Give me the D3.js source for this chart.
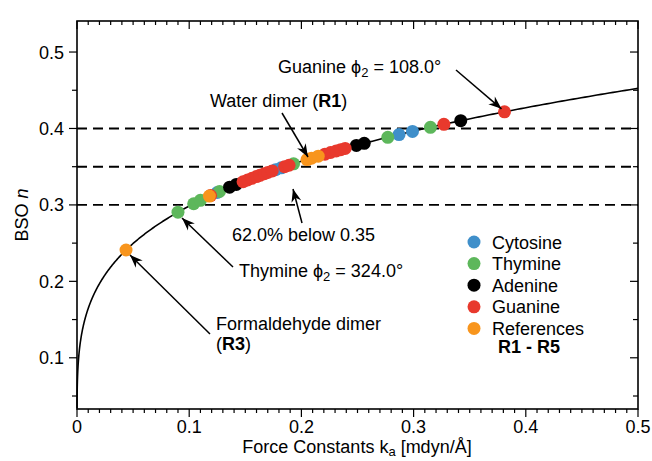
<!DOCTYPE html>
<html>
<head>
<meta charset="utf-8">
<script src="https://cdn.jsdelivr.net/npm/d3@7"></script>
<style>
  html, body { margin: 0; padding: 0; background: #fff; }
  svg { display: block; font-family: "Liberation Sans", Arial, sans-serif; }
</style>
</head>
<body>
<svg id="chart" width="652" height="461"></svg>
<script>
// Force constants k_a (mdyn/Å) of the hydrogen bonds, grouped by base
const cytosineK   = [0.125, 0.177, 0.182, 0.287, 0.299];
const thymineK    = [0.090, 0.104, 0.110, 0.127, 0.193, 0.277, 0.315];
const adenineK    = [0.136, 0.142, 0.249, 0.256, 0.342];
const guanineK    = [0.119, 0.148, 0.152, 0.156, 0.160, 0.163, 0.167, 0.170, 0.174,
                     0.185, 0.189, 0.221, 0.226, 0.231, 0.235, 0.239, 0.327, 0.381];
const referenceK  = [0.0437, 0.118, 0.205, 0.209, 0.215];

// BSO power relation n = A * (k_a)^B
const bsoA = 0.5413;
const bsoB = 0.2585;

// Threshold lines
const thresholds = [0.30, 0.35, 0.40];

// Axis ticks
const xTicks = [0, 0.1, 0.2, 0.3, 0.4, 0.5];
const yTicks = [0.1, 0.2, 0.3, 0.4, 0.5];

const groups = [
  { name: "Cytosine",   color: "#3f8fca", k: cytosineK },
  { name: "Thymine",    color: "#5db75b", k: thymineK },
  { name: "Adenine",    color: "#000000", k: adenineK },
  { name: "Guanine",    color: "#e8392d", k: guanineK },
  { name: "References", color: "#f8951d", k: referenceK }
];

const bso = k => bsoA * Math.pow(k, bsoB);

const W = 652, H = 461;
const margin = { left: 77, right: 14, top: 21, bottom: 52 };
const svg = d3.select("#chart");

const yLo = 0.033, yHi = 0.5406;
const x = d3.scaleLinear().domain([0, 0.5]).range([margin.left, W - margin.right]);
const y = d3.scaleLinear().domain([yLo, yHi]).range([H - margin.bottom, margin.top]);

const fs = 18;
const isMajor = d => Math.abs(d * 10 - Math.round(d * 10)) < 1e-6;

// Dashed thresholds
svg.append("g").selectAll("line").data(thresholds).join("line")
  .attr("x1", x(0)).attr("x2", x(0.5))
  .attr("y1", d => y(d)).attr("y2", d => y(d))
  .attr("stroke", "#000").attr("stroke-width", 1.9)
  .attr("stroke-dasharray", "10,6");

// Fitted BSO curve
const curveK = d3.range(1, 401).map(i => 0.5 * Math.pow(i / 400, 3));
const curvePts = curveK.map(k => [k, bso(k)]).filter(p => p[1] >= yLo);
svg.append("path")
  .datum(curvePts)
  .attr("fill", "none").attr("stroke", "#000").attr("stroke-width", 1.6)
  .attr("d", d3.line().x(d => x(d[0])).y(d => y(d[1])));

// Data points
const ptsG = svg.append("g");
groups.forEach(g => {
  ptsG.append("g").selectAll("circle").data(g.k).join("circle")
    .attr("cx", d => x(d)).attr("cy", d => y(bso(d)))
    .attr("r", 6.5).attr("fill", g.color);
});

// Frame and axes
const xMinor = d3.range(0, 0.5001, 0.01);
const yMinor = d3.range(0.05, 0.5001, 0.05);

const axG = svg.append("g").attr("stroke", "#000");
axG.append("rect")
  .attr("x", x(0)).attr("y", y(yHi))
  .attr("width", x(0.5) - x(0)).attr("height", y(yLo) - y(yHi))
  .attr("fill", "none").attr("stroke-width", 1.6);

// bottom axis: outward ticks
axG.append("g").selectAll("line").data(xMinor).join("line")
  .attr("x1", d => x(d)).attr("x2", d => x(d))
  .attr("y1", y(yLo))
  .attr("y2", d => y(yLo) + (isMajor(d) ? 8 : 4))
  .attr("stroke-width", 1.2);
// top axis: inward ticks
axG.append("g").selectAll("line").data(xMinor).join("line")
  .attr("x1", d => x(d)).attr("x2", d => x(d))
  .attr("y1", y(yHi))
  .attr("y2", d => y(yHi) + (isMajor(d) ? 8 : 4))
  .attr("stroke-width", 1.2);
// left axis: outward ticks
axG.append("g").selectAll("line").data(yMinor).join("line")
  .attr("y1", d => y(d)).attr("y2", d => y(d))
  .attr("x1", x(0))
  .attr("x2", d => x(0) - (isMajor(d) ? 8 : 5))
  .attr("stroke-width", 1.2);
// right axis: inward ticks
axG.append("g").selectAll("line").data(yMinor).join("line")
  .attr("y1", d => y(d)).attr("y2", d => y(d))
  .attr("x1", x(0.5))
  .attr("x2", d => x(0.5) - (isMajor(d) ? 8 : 5))
  .attr("stroke-width", 1.2);

// Tick labels
svg.append("g").selectAll("text").data(xTicks).join("text")
  .attr("x", d => x(d)).attr("y", y(yLo) + 23.5)
  .attr("text-anchor", "middle").attr("font-size", fs)
  .text(d => d === 0 ? "0" : d3.format(".1f")(d));
svg.append("g").selectAll("text").data(yTicks).join("text")
  .attr("x", x(0) - 13).attr("y", d => y(d) + 6.5)
  .attr("text-anchor", "end").attr("font-size", fs)
  .text(d => d3.format(".1f")(d));

// Axis titles
const xt = svg.append("text").attr("x", 357).attr("y", 453)
  .attr("text-anchor", "middle").attr("font-size", fs);
xt.append("tspan").text("Force Constants k");
xt.append("tspan").attr("font-size", 13).attr("dy", 3).text("a");
xt.append("tspan").attr("dy", -3).text(" [mdyn/Å]");

const yt = svg.append("text")
  .attr("transform", `translate(28,${(y(yHi) + y(yLo)) / 2}) rotate(-90)`)
  .attr("text-anchor", "middle").attr("font-size", fs);
yt.append("tspan").text("BSO ");
yt.append("tspan").attr("font-style", "italic").text("n");

// Arrow marker
const defs = svg.append("defs");
defs.append("marker").attr("id", "arr")
  .attr("viewBox", "-15 -7 17 14").attr("refX", 0).attr("refY", 0)
  .attr("markerWidth", 17).attr("markerHeight", 14)
  .attr("markerUnits", "userSpaceOnUse").attr("orient", "auto")
  .append("path").attr("d", "M0,0 L-13,-5 L-9,0 L-13,5 Z").attr("fill", "#000");

function arrow(x1, y1, x2, y2) {
  svg.append("line")
    .attr("x1", x1).attr("y1", y1).attr("x2", x2).attr("y2", y2)
    .attr("stroke", "#000").attr("stroke-width", 1.5)
    .attr("marker-end", "url(#arr)");
}

// Annotations
function phiLabel(tx, ty, base, rest) {
  const t = svg.append("text").attr("x", tx).attr("y", ty).attr("font-size", fs);
  t.append("tspan").text(base + " ϕ");
  t.append("tspan").attr("font-size", 13).attr("dy", 4).text("2");
  t.append("tspan").attr("dy", -4).text(rest);
}

phiLabel(278, 73, "Guanine", " = 108.0°");
arrow(456, 70, x(0.381) - 3, y(bso(0.381)) - 3);

const wd = svg.append("text").attr("x", 210).attr("y", 107).attr("font-size", fs);
wd.append("tspan").text("Water dimer (");
wd.append("tspan").attr("font-weight", "bold").text("R1");
wd.append("tspan").text(")");
arrow(282, 113, 308, 157);

svg.append("text").attr("x", 232).attr("y", 241).attr("font-size", fs)
  .text("62.0% below 0.35");
arrow(302, 223, 293, 189);

phiLabel(239, 277, "Thymine", " = 324.0°");
arrow(233, 267, 182, 218);

svg.append("text").attr("x", 216).attr("y", 330).attr("font-size", fs)
  .text("Formaldehyde dimer");
const r3 = svg.append("text").attr("x", 216).attr("y", 350).attr("font-size", fs);
r3.append("tspan").text("(");
r3.append("tspan").attr("font-weight", "bold").text("R3");
r3.append("tspan").text(")");
arrow(210, 334, 130, 255);

// Legend
const leg = svg.append("g").attr("transform", "translate(474,242)");
groups.forEach((g, i) => {
  const row = leg.append("g").attr("transform", `translate(0,${i * 21.6})`);
  row.append("circle").attr("r", 6.5).attr("fill", g.color);
  row.append("text").attr("x", 18).attr("y", 6.5).attr("font-size", fs).text(g.name);
});
leg.append("text").attr("x", 24).attr("y", 111)
  .attr("font-size", fs).attr("font-weight", "bold").text("R1 - R5");
</script>
</body>
</html>
